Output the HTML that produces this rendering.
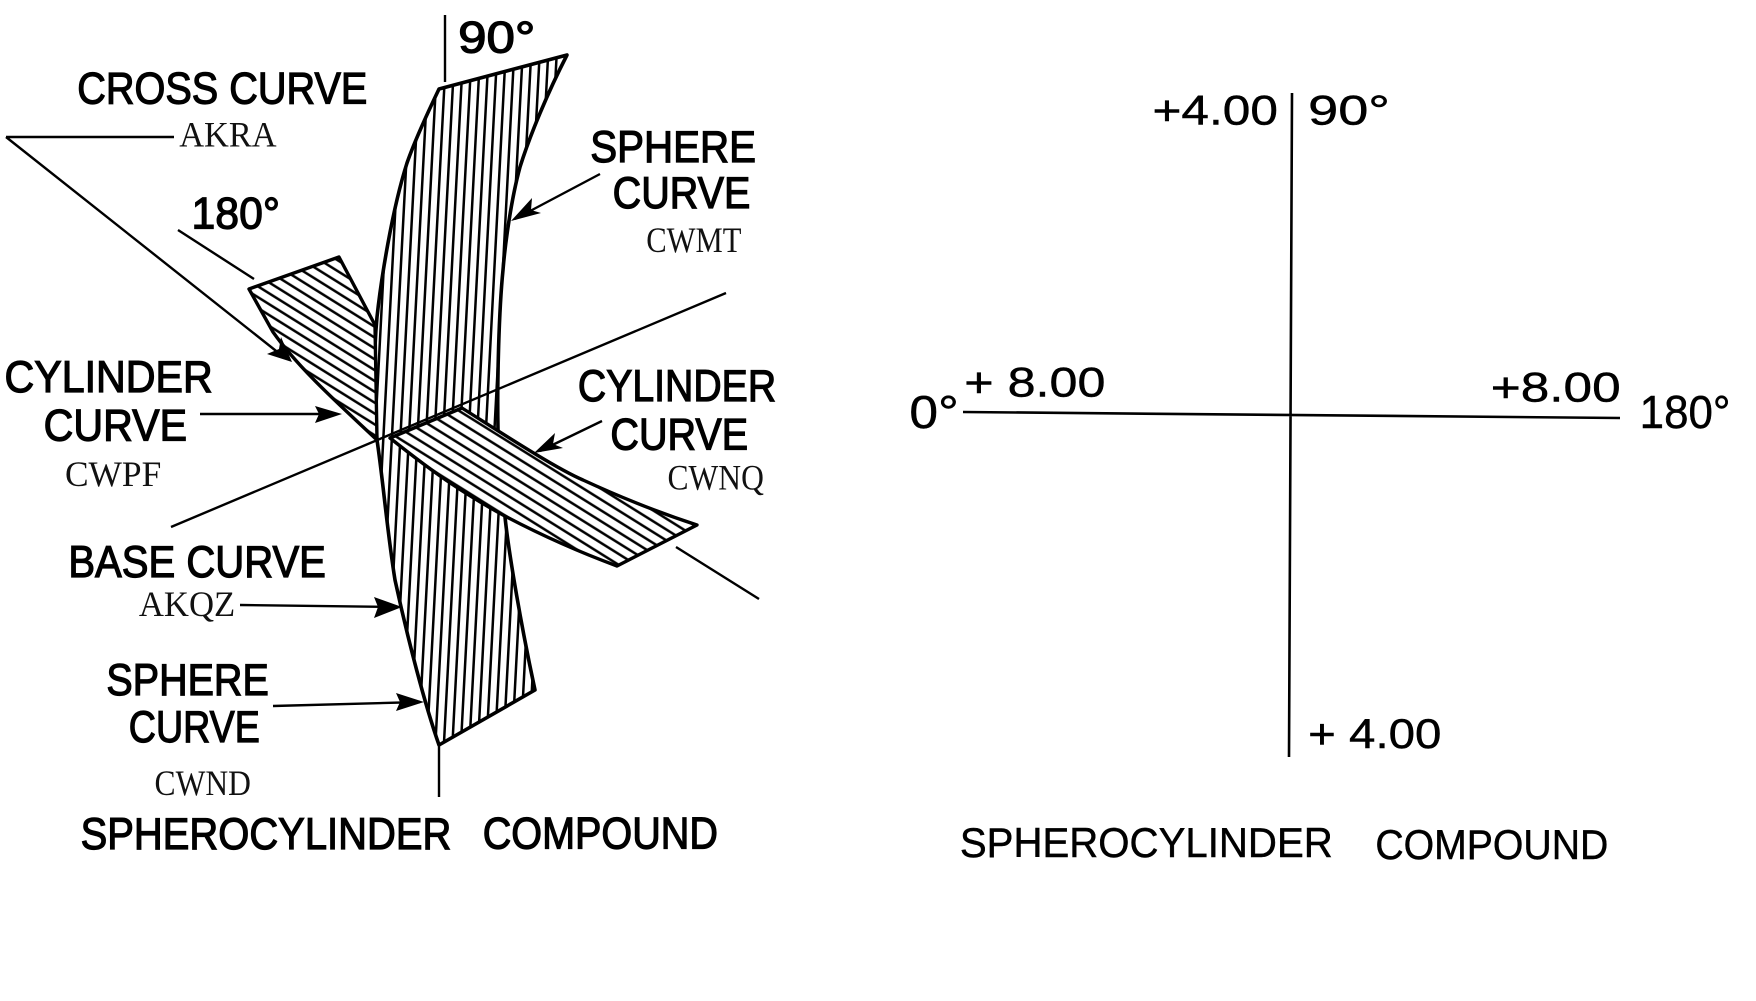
<!DOCTYPE html>
<html><head><meta charset="utf-8"><style>
html,body{margin:0;padding:0;background:#fff;width:1756px;height:1001px;overflow:hidden}
svg{display:block}
.s{font-family:"Liberation Sans",sans-serif;font-size:40px;fill:#000;stroke:#000;stroke-width:1.1}
.r{font-family:"Liberation Sans",sans-serif;font-size:37px;fill:#000;stroke:#000;stroke-width:.4}
.c{font-family:"Liberation Serif",serif;font-size:32px;fill:#111}
.l{stroke:#000;fill:none}
</style></head><body>
<svg width="1756" height="1001" viewBox="0 0 1756 1001" xmlns="http://www.w3.org/2000/svg">
<defs>
<pattern id="v" width="8.5" height="20" patternUnits="userSpaceOnUse" patternTransform="rotate(3)"><rect x="5" width="2.5" height="20" fill="#000"/></pattern>
<pattern id="d" width="9.2" height="20" patternUnits="userSpaceOnUse" patternTransform="rotate(-58)"><rect x="3" width="2.5" height="20" fill="#000"/></pattern>
<pattern id="e" width="9.2" height="20" patternUnits="userSpaceOnUse" patternTransform="rotate(-58)"><rect x="4" width="2.5" height="20" fill="#000"/></pattern>
</defs>
<rect width="1756" height="1001" fill="#fff"/>
<path d="M439 89L567 55C548 92 530 135 520 167C511 200 505 245 503 270C499 310 497 380 498 430L505 517C509 555 522 630 535 690L439 745C425 705 408 640 395 580C387 530 383 480 377 440C374 400 373 360 377 317C381 280 392 210 407 163C415 140 428 112 439 89Z" fill="url(#v)" stroke="#000" stroke-width="3.6" stroke-linejoin="round"/>
<path d="M249 289L339 257L375 325L377 440C340 405 300 370 273 332Z" fill="#fff"/>
<path d="M249 289L339 257L375 325L377 440C340 405 300 370 273 332Z" fill="url(#d)" stroke="#000" stroke-width="3.4" stroke-linejoin="round"/>
<path d="M390 438L462 408C500 432 555 468 583 480C620 497 660 513 697 525L617 566C590 556 550 540 503 515C470 497 440 478 390 438Z" fill="#fff"/>
<path d="M390 438L462 408C500 432 555 468 583 480C620 497 660 513 697 525L617 566C590 556 550 540 503 515C470 497 440 478 390 438Z" fill="url(#e)" stroke="#000" stroke-width="3.4" stroke-linejoin="round"/>
<g class="l" stroke-width="2.4">
<path d="M445 15V82M439 745V797M178 230L254 279M171 527L726 293M676 547L759 599"/>
<path d="M6 137H174M6 137L285 358"/>
<path d="M200 414L335 414M602 421L540 451M600 174L515 219M240 605L395 607M273 706L420 702"/>
<path d="M1292 93L1289 757M963 412L1620 418" stroke-width="2.6"/>
</g>
<g fill="#000">
<path d="M292 362L267 354L279 349L281 337Z"/>
<path d="M342 414L315 406L319 414L315 423Z"/>
<path d="M534 453L555 433L553 444L563 448Z"/>
<path d="M511 221L532 198L531 210L541 213Z"/>
<path d="M402 607L374 597L378 607L374 618Z"/>
<path d="M424 702L396 693L400 702L396 711Z"/>
</g>
<g transform="scale(1.12)">
<text class="s" x="409" y="47" textLength="69" lengthAdjust="spacingAndGlyphs">90°</text>
<text class="s" x="69" y="92.500" textLength="259" lengthAdjust="spacingAndGlyphs">CROSS CURVE</text>
<text class="c" x="160" y="131" textLength="87" lengthAdjust="spacingAndGlyphs">AKRA</text>
<text class="s" x="171" y="204" textLength="79" lengthAdjust="spacingAndGlyphs">180°</text>
<text class="s" x="527" y="144.500" textLength="148" lengthAdjust="spacingAndGlyphs">SPHERE</text>
<text class="s" x="547" y="185.500" textLength="123" lengthAdjust="spacingAndGlyphs">CURVE</text>
<text class="c" x="577" y="225" textLength="85" lengthAdjust="spacingAndGlyphs">CWMT</text>
<text class="s" x="4" y="350" textLength="186" lengthAdjust="spacingAndGlyphs">CYLINDER</text>
<text class="s" x="39" y="393.500" textLength="128" lengthAdjust="spacingAndGlyphs">CURVE</text>
<text class="c" x="58" y="434" textLength="86" lengthAdjust="spacingAndGlyphs">CWPF</text>
<text class="s" x="516" y="358" textLength="177" lengthAdjust="spacingAndGlyphs">CYLINDER</text>
<text class="s" x="545" y="401.500" textLength="123" lengthAdjust="spacingAndGlyphs">CURVE</text>
<text class="c" x="596" y="437" textLength="86" lengthAdjust="spacingAndGlyphs">CWNQ</text>
<text class="s" x="61" y="515" textLength="230" lengthAdjust="spacingAndGlyphs">BASE CURVE</text>
<text class="c" x="124" y="550" textLength="86" lengthAdjust="spacingAndGlyphs">AKQZ</text>
<text class="s" x="95" y="620.500" textLength="145" lengthAdjust="spacingAndGlyphs">SPHERE</text>
<text class="s" x="115" y="662.500" textLength="117" lengthAdjust="spacingAndGlyphs">CURVE</text>
<text class="c" x="138" y="710" textLength="86" lengthAdjust="spacingAndGlyphs">CWND</text>
<text class="s" x="72" y="758" textLength="331" lengthAdjust="spacingAndGlyphs">SPHEROCYLINDER</text>
<text class="s" x="431" y="757.500" textLength="210" lengthAdjust="spacingAndGlyphs">COMPOUND</text>
<text class="r" x="1029" y="111" textLength="112" lengthAdjust="spacingAndGlyphs">+4.00</text>
<text class="r" x="1168" y="111" textLength="73" lengthAdjust="spacingAndGlyphs">90°</text>
<text class="r" x="812" y="382" style="font-size:41px" textLength="44" lengthAdjust="spacingAndGlyphs">0°</text>
<text class="r" x="861" y="354" textLength="126" lengthAdjust="spacingAndGlyphs">+ 8.00</text>
<text class="r" x="1331" y="358.500" textLength="116" lengthAdjust="spacingAndGlyphs">+8.00</text>
<text class="r" x="1464" y="382" style="font-size:41px" textLength="81" lengthAdjust="spacingAndGlyphs">180°</text>
<text class="r" x="1168" y="668" textLength="119" lengthAdjust="spacingAndGlyphs">+ 4.00</text>
<text class="r" x="857" y="765" textLength="333" lengthAdjust="spacingAndGlyphs">SPHEROCYLINDER</text>
<text class="r" x="1228" y="767" textLength="208" lengthAdjust="spacingAndGlyphs">COMPOUND</text>
</g>
</svg>
</body></html>
